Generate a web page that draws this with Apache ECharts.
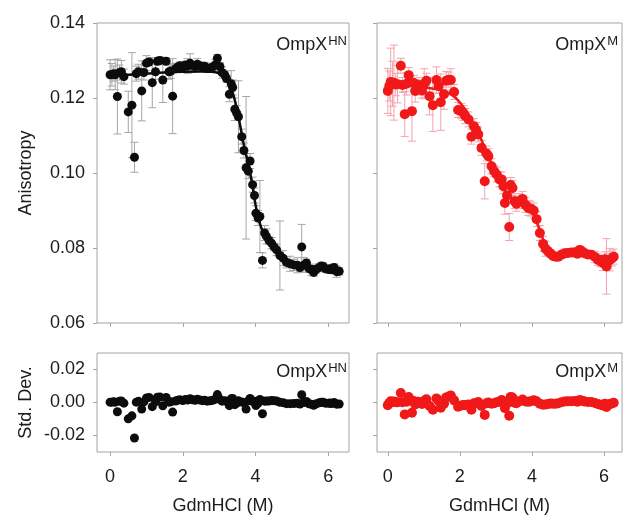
<!DOCTYPE html>
<html><head><meta charset="utf-8">
<script src="https://cdn.jsdelivr.net/npm/echarts@6/dist/echarts.min.js"></script>
<style>html,body{margin:0;padding:0;background:#fff}#c{width:624px;height:516px}</style>
</head><body><div id="c"></div>
<script>
// ---- OmpX^HN (black) ----
var hnX = [0.00,0.05,0.10,0.14,0.20,0.26,0.31,0.38,0.50,0.60,0.67,0.72,0.78,0.87,0.93,1.00,1.07,1.16,1.25,1.30,1.37,1.45,1.54,1.62,1.67,1.72,1.80,1.86,1.92,2.00,2.07,2.13,2.20,2.27,2.34,2.40,2.47,2.54,2.60,2.67,2.75,2.82,2.89,2.95,3.02,3.08,3.15,3.20,3.28,3.33,3.37,3.43,3.48,3.53,3.62,3.68,3.74,3.80,3.85,3.92,3.97,4.01,4.07,4.12,4.19,4.25,4.30,4.37,4.44,4.51,4.58,4.67,4.76,4.85,4.95,5.05,5.15,5.22,5.27,5.33,5.40,5.47,5.54,5.60,5.67,5.75,5.81,5.86,5.92,6.00,6.05,6.09,6.16,6.23,6.30];
var hnY = [0.1262,0.1262,0.1265,0.1262,0.1204,0.1268,0.1270,0.1257,0.1163,0.1181,0.1042,0.1265,0.1270,0.1219,0.1268,0.1293,0.1296,0.1241,0.1270,0.1298,0.1300,0.1248,0.1298,0.1270,0.1272,0.1205,0.1278,0.1283,0.1286,0.1282,0.1288,0.1285,0.1293,0.1287,0.1284,0.1290,0.1286,0.1282,0.1285,0.1279,0.1280,0.1283,0.1288,0.1306,0.1284,0.1268,0.1262,0.1252,0.1210,0.1238,0.1228,0.1170,0.1160,0.1150,0.1097,0.1060,0.1014,0.1005,0.1032,0.0969,0.0940,0.0893,0.0880,0.0884,0.0767,0.0840,0.0831,0.0820,0.0813,0.0803,0.0795,0.0780,0.0773,0.0762,0.0758,0.0755,0.0754,0.0748,0.0803,0.0755,0.0760,0.0745,0.0742,0.0735,0.0743,0.0748,0.0752,0.0751,0.0745,0.0743,0.0745,0.0742,0.0748,0.0737,0.0738];
var hnErr = [0.004,0.003,0.002,0.004,0.010,0.002,0.003,0.002,0.0055,0.014,0.004,0.002,0.002,0.008,0.002,0.002,0.001,0.0067,0.002,0.001,0.001,0.006,0.001,0.002,0.002,0.010,0.001,0.001,0.001,0.001,0.001,0.002,0.0025,0.001,0.001,0.0015,0.001,0.001,0.001,0.001,0.001,0.001,0.0015,0.001,0.001,0.0015,0.001,0.001,0.002,0.0035,0.002,0.003,0.002,0.0096,0.002,0.002,0.019,0.002,0.002,0.002,0.002,0.002,0.002,0.0096,0.002,0.002,0.002,0.001,0.0015,0.001,0.0015,0.0092,0.002,0.0015,0.002,0.0015,0.002,0.001,0.006,0.002,0.001,0.001,0.0015,0.001,0.001,0.001,0.001,0.001,0.001,0.001,0.001,0.001,0.001,0.0015,0.001];
var hnRes = [0.0002,0.0002,0.0005,0.0002,-0.0056,0.0008,0.0009,-0.0004,-0.0099,-0.0081,-0.0215,0.0002,0.0007,-0.0040,0.0004,0.0028,0.0031,-0.0025,0.0004,0.0032,0.0033,-0.0020,0.0030,0.0002,0.0004,-0.0058,0.0009,0.0014,0.0016,0.0012,0.0018,0.0015,0.0023,0.0017,0.0013,0.0019,0.0015,0.0011,0.0014,0.0008,0.0010,0.0013,0.0020,0.0048,0.0020,0.0008,0.0010,0.0007,-0.0019,0.0022,0.0024,-0.0013,-0.0003,0.0010,0.0003,-0.0001,-0.0040,0.0010,0.0025,0.0006,0.0007,-0.0018,-0.0005,0.0018,-0.0068,0.0008,0.0009,0.0009,0.0012,0.0011,0.0009,0.0001,-0.0001,-0.0007,-0.0007,-0.0006,-0.0004,-0.0009,0.0047,0.0000,0.0006,-0.0008,-0.0011,-0.0017,-0.0008,-0.0002,0.0002,0.0002,-0.0004,-0.0005,-0.0003,-0.0006,0.0000,-0.0010,-0.0009];
var hnFitX = [0,0.5,1,1.5,2,2.5,2.8,3.0,3.1,3.2,3.3,3.4,3.5,3.6,3.7,3.8,3.9,4.0,4.1,4.2,4.3,4.4,4.5,4.6,4.8,5.0,5.3,5.6,6.0,6.3];
var hnFitY = [0.1260,0.1262,0.1265,0.1268,0.1270,0.1271,0.1270,0.1266,0.1260,0.1250,0.1232,0.1205,0.1165,0.1115,0.1065,0.1025,0.0975,0.0915,0.0872,0.0843,0.0822,0.0806,0.0793,0.0784,0.0771,0.0762,0.0755,0.0751,0.0748,0.0747];

// ---- OmpX^M (red) ----
var mX = [0.00,0.04,0.08,0.13,0.17,0.22,0.27,0.36,0.41,0.47,0.52,0.58,0.67,0.72,0.76,0.84,0.89,0.95,1.01,1.07,1.16,1.25,1.35,1.41,1.47,1.56,1.62,1.69,1.75,1.84,1.95,2.04,2.10,2.15,2.24,2.32,2.39,2.45,2.51,2.60,2.69,2.74,2.79,2.88,2.95,3.02,3.10,3.16,3.21,3.25,3.31,3.37,3.41,3.46,3.52,3.57,3.65,3.74,3.82,3.90,3.97,4.05,4.13,4.22,4.31,4.38,4.45,4.52,4.59,4.66,4.73,4.82,4.91,5.00,5.10,5.20,5.26,5.33,5.40,5.46,5.55,5.65,5.75,5.83,5.90,5.97,6.02,6.07,6.12,6.16,6.22,6.27];
var mY = [0.1219,0.1232,0.1243,0.1238,0.1241,0.1236,0.1237,0.1286,0.1235,0.1157,0.1238,0.1261,0.1165,0.1240,0.1219,0.1235,0.1228,0.1220,0.1238,0.1246,0.1205,0.1181,0.1248,0.1232,0.1189,0.1210,0.1246,0.1249,0.1248,0.1216,0.1168,0.1165,0.1160,0.1152,0.1143,0.1097,0.1125,0.1115,0.1103,0.1067,0.0978,0.1052,0.1045,0.1018,0.1005,0.0996,0.0983,0.0983,0.0965,0.0920,0.0940,0.0856,0.0968,0.0960,0.0925,0.0918,0.0925,0.0931,0.0915,0.0907,0.0905,0.0900,0.0877,0.0840,0.0811,0.0798,0.0791,0.0785,0.0779,0.0777,0.0777,0.0782,0.0786,0.0787,0.0788,0.0789,0.0785,0.0795,0.0790,0.0786,0.0783,0.0782,0.0776,0.0769,0.0765,0.0760,0.0770,0.0751,0.0765,0.0769,0.0772,0.0777];
var mErr = [0.006,0.004,0.009,0.006,0.010,0.003,0.005,0.002,0.002,0.006,0.003,0.002,0.008,0.002,0.003,0.002,0.002,0.002,0.004,0.002,0.005,0.007,0.0035,0.002,0.0075,0.004,0.0025,0.002,0.003,0.002,0.002,0.002,0.002,0.002,0.002,0.002,0.002,0.002,0.002,0.002,0.0047,0.002,0.002,0.002,0.0015,0.002,0.002,0.002,0.002,0.003,0.002,0.0036,0.002,0.002,0.002,0.002,0.002,0.002,0.002,0.002,0.002,0.002,0.002,0.002,0.002,0.002,0.001,0.001,0.001,0.001,0.001,0.001,0.001,0.001,0.001,0.001,0.001,0.001,0.001,0.001,0.001,0.001,0.0015,0.0015,0.0015,0.002,0.002,0.0074,0.002,0.003,0.002,0.002];
var mRes = [-0.0016,-0.0003,0.0008,0.0003,0.0006,0.0001,0.0002,0.0058,0.0001,-0.0072,0.0005,0.0033,-0.0062,0.0009,-0.0012,0.0005,-0.0001,-0.0009,0.0010,0.0019,-0.0021,-0.0044,0.0025,0.0010,-0.0032,-0.0008,0.0031,0.0036,0.0042,0.0013,-0.0025,-0.0018,-0.0015,-0.0016,-0.0012,-0.0044,-0.0005,-0.0005,0.0003,-0.0021,-0.0075,-0.0005,0.0000,-0.0007,-0.0004,0.0002,0.0004,0.0015,0.0006,-0.0034,-0.0006,-0.0080,0.0034,0.0030,-0.0001,-0.0004,0.0007,0.0018,0.0006,0.0004,0.0008,0.0013,0.0007,-0.0007,-0.0013,-0.0012,-0.0009,-0.0006,-0.0007,-0.0007,-0.0005,0.0002,0.0006,0.0007,0.0008,0.0009,0.0005,0.0015,0.0010,0.0006,0.0003,0.0003,-0.0003,-0.0009,-0.0013,-0.0018,-0.0008,-0.0027,-0.0013,-0.0009,-0.0006,-0.0001];
var mFitX = [0,0.5,1,1.5,1.8,2.0,2.2,2.4,2.6,2.8,3.0,3.2,3.4,3.6,3.8,4.0,4.1,4.2,4.3,4.4,4.5,4.6,4.8,5.0,5.5,6.0,6.3];
var mFitY = [0.1235,0.1233,0.1228,0.1220,0.1207,0.1188,0.1162,0.1128,0.1088,0.1043,0.0998,0.0960,0.0935,0.0920,0.0910,0.0895,0.0878,0.0852,0.0826,0.0806,0.0793,0.0785,0.0780,0.0780,0.0780,0.0778,0.0778];

// tick labels
var xTicks = [0, 2, 4, 6];
var topYTicks = [0.06, 0.08, 0.10, 0.12, 0.14];
var botYTicks = [-0.02, 0.00, 0.02];

var FONT = 'Liberation Sans, Arial, sans-serif';
var TXT = '#1c1c1c';
var BLACK = '#0c0c0c', RED = '#f01818';
var GRAYBAR = '#a6a6a6', PINKBAR = '#f3a3ae';
var FRAME = '#a4a4a4';

function zip(a, b, c) { return a.map(function (v, i) { return c ? [v, b[i], c[i]] : [v, b[i]]; }); }

var chart = echarts.init(document.getElementById('c'), null, {renderer: 'canvas'});

function errRender(color) {
  return function (params, api) {
    var x = api.value(0), y = api.value(1), e = api.value(2);
    var p1 = api.coord([x, y + e]), p2 = api.coord([x, y - e]);
    var hw = 4;
    var st = {stroke: color, lineWidth: 1};
    return {type: 'group', children: [
      {type: 'line', shape: {x1: p1[0], y1: p1[1], x2: p2[0], y2: p2[1]}, style: st},
      {type: 'line', shape: {x1: p1[0] - hw, y1: p1[1], x2: p1[0] + hw, y2: p1[1]}, style: st},
      {type: 'line', shape: {x1: p2[0] - hw, y1: p2[1], x2: p2[0] + hw, y2: p2[1]}, style: st}
    ]};
  };
}

var grids = [
  {left: 97, top: 23, width: 252, height: 300},
  {left: 377, top: 23, width: 245, height: 300},
  {left: 97, top: 353, width: 252, height: 99},
  {left: 377, top: 353, width: 245, height: 99}
].map(function (g) { return Object.assign({show: true, borderColor: FRAME, borderWidth: 1, backgroundColor: 'transparent'}, g); });

function xAx(idx, showLabel, min, max) {
  return {
    gridIndex: idx, type: 'value', min: min, max: max, position: 'bottom',
    axisLine: {show: false, onZero: false},
    axisTick: {show: true, inside: false, length: 4, customValues: xTicks, lineStyle: {color: FRAME}},
    axisLabel: {show: showLabel, customValues: xTicks, fontSize: 18, fontFamily: FONT, color: TXT, margin: 16},
    splitLine: {show: false},
    name: showLabel ? 'GdmHCl (M)' : '', nameLocation: 'middle', nameGap: 45,
    nameTextStyle: {fontSize: 18, fontFamily: FONT, color: TXT}
  };
}
function yAx(idx, top, showLabel, name) {
  var o = {
    gridIndex: idx, type: 'value', position: 'left',
    axisLine: {show: false, onZero: false},
    axisTick: {show: true, inside: false, length: 4, lineStyle: {color: FRAME}},
    axisLabel: {show: showLabel, fontSize: 18, fontFamily: FONT, color: TXT, margin: 12,
      formatter: function (v) { return v.toFixed(2); }},
    splitLine: {show: false},
    name: name || '', nameLocation: 'middle', nameGap: 62,
    nameTextStyle: {fontSize: 18, fontFamily: FONT, color: TXT}
  };
  if (top) { o.min = 0.06; o.max = 0.14; o.interval = 0.02; }
  else {
    o.min = -0.03; o.max = 0.03;
    o.axisTick.customValues = botYTicks;
    o.axisLabel.customValues = botYTicks;
  }
  return o;
}

function label(text, sup, right, top) {
  return {
    text: '{a|' + text + '}{b|' + sup + '}', right: right, top: top, padding: 0,
    textStyle: {fontWeight: 'normal', rich: {
      a: {fontSize: 18, fontFamily: FONT, color: TXT, fontWeight: 'normal', lineHeight: 20},
      b: {fontSize: 13, fontFamily: FONT, color: TXT, fontWeight: 'normal', lineHeight: 13, verticalAlign: 'top', padding: [0, 0, 0, 1]}
    }}
  };
}

var option = {
  animation: false,
  backgroundColor: '#ffffff',
  grid: grids,
  title: [
    label('OmpX', 'HN', 277, 35),
    label('OmpX', 'M', 6, 35),
    label('OmpX', 'HN', 277, 362),
    label('OmpX', 'M', 6, 362)
  ],
  xAxis: [xAx(0, false, -0.36, 6.57), xAx(1, false, -0.3, 6.5), xAx(2, true, -0.36, 6.57), xAx(3, true, -0.3, 6.5)],
  yAxis: [yAx(0, true, true, 'Anisotropy'), yAx(1, true, false), yAx(2, false, true, 'Std. Dev.'), yAx(3, false, false)],
  series: [
    {type: 'custom', xAxisIndex: 0, yAxisIndex: 0, renderItem: errRender(GRAYBAR), data: zip(hnX, hnY, hnErr), z: 1},
    {type: 'line', xAxisIndex: 0, yAxisIndex: 0, data: zip(hnFitX, hnFitY), smooth: 0.4, showSymbol: false,
      lineStyle: {color: BLACK, width: 2.5}, z: 2},
    {type: 'scatter', xAxisIndex: 0, yAxisIndex: 0, data: zip(hnX, hnY), symbolSize: 9,
      itemStyle: {color: BLACK, opacity: 1}, z: 3},

    {type: 'custom', xAxisIndex: 1, yAxisIndex: 1, renderItem: errRender(PINKBAR), data: zip(mX, mY, mErr), z: 1},
    {type: 'line', xAxisIndex: 1, yAxisIndex: 1, data: zip(mFitX, mFitY), smooth: 0.4, showSymbol: false,
      lineStyle: {color: RED, width: 2.5}, z: 2},
    {type: 'scatter', xAxisIndex: 1, yAxisIndex: 1, data: zip(mX, mY), symbolSize: 10,
      itemStyle: {color: RED, opacity: 1}, z: 3},

    {type: 'scatter', xAxisIndex: 2, yAxisIndex: 2, data: zip(hnX, hnRes), symbolSize: 9,
      itemStyle: {color: BLACK, opacity: 1}},
    {type: 'scatter', xAxisIndex: 3, yAxisIndex: 3, data: zip(mX, mRes), symbolSize: 10,
      itemStyle: {color: RED, opacity: 1}}
  ]
};
chart.setOption(option);
</script>
</body></html>
